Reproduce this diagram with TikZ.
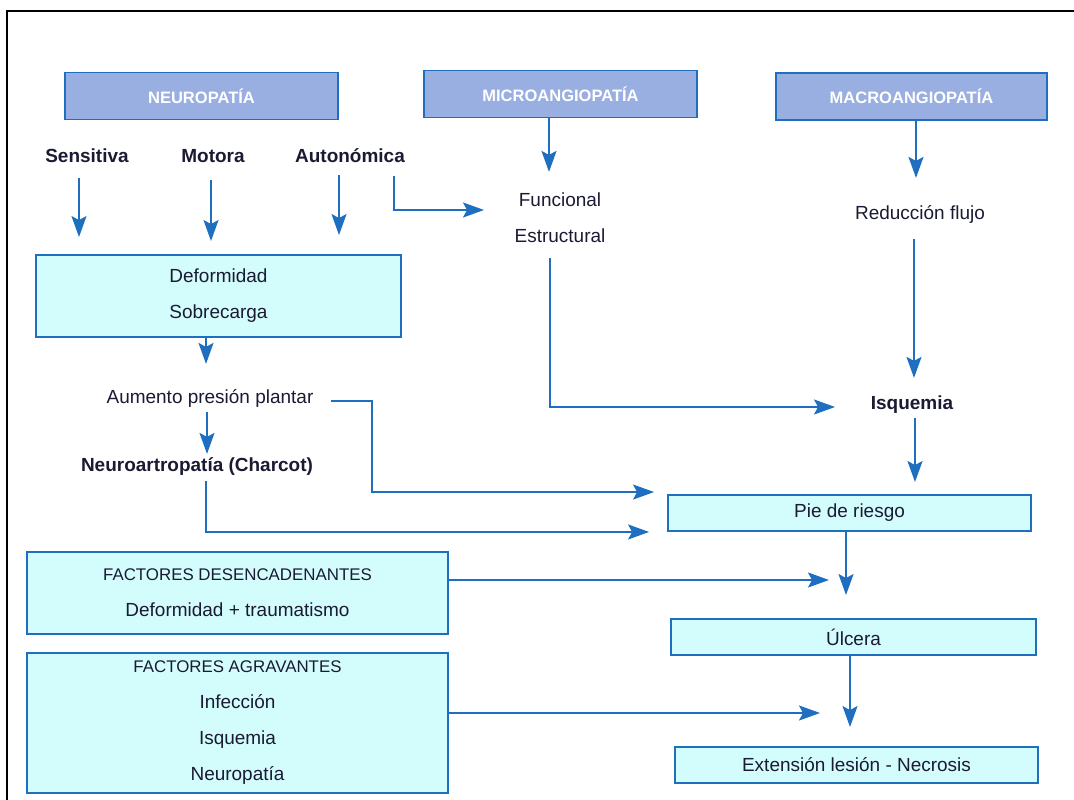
\documentclass[tikz,border=0pt]{standalone}
\usepackage{fontspec}
\setmainfont{Liberation Sans}
\usetikzlibrary{arrows.meta}

\definecolor{linkblue}{HTML}{1F6FC0}
\definecolor{headfill}{HTML}{99AFE1}
\definecolor{boxfill}{HTML}{D3FDFD}
\definecolor{inkdark}{HTML}{1A1A33}

\tikzset{
  lbl/.style={text=inkdark,inner sep=2pt,text height=8pt,text depth=2.5pt,
    font=\fontsize{10.8}{13}\selectfont},
  lblb/.style={lbl,font=\fontsize{10.8}{13}\selectfont\bfseries},
  hdr/.style={draw=linkblue,fill=headfill,line width=1.1pt,text=white,
    minimum width=5.46cm,minimum height=0.94cm,inner sep=0pt,
    font=\fontsize{9.4}{11}\selectfont\bfseries},
  infobox/.style={draw=linkblue,fill=boxfill,line width=1.1pt,text=inkdark,
    align=center,inner sep=0pt,font=\fontsize{10.8}{20.5}\selectfont},
  arr/.style={draw=linkblue,line width=1pt,
    -{Stealth[length=0.42cm,width=0.3cm,inset=0.08cm]}},
}
\newcommand{\capsline}[1]{{\fontsize{9.6}{20.5}\selectfont #1}}

\begin{document}
\begin{tikzpicture}[x=0.02cm,y=-0.02cm]
  \useasboundingbox (0,0) rectangle (1074,800);
  \draw[line width=1.6pt] (7,800) -- (7,11) -- (1074,11);

  % headers
  \node[hdr] (hneuro) at (201.5,96) {NEUROPATÍA};
  \node[hdr] (hmicro) at (560.5,94) {MICROANGIOPATÍA};
  \node[hdr,minimum width=5.42cm] (hmacro) at (911.5,96.5) {MACROANGIOPATÍA};

  % texts
  \node[lblb] (sens) at (87,158) {Sensitiva};
  \node[lblb] (moto) at (213,158) {Motora};
  \node[lblb] (auto) at (350,158) {Autonómica};
  \node[lbl] (func) at (560,202) {Funcional};
  \node[lbl] (estr) at (560,238) {Estructural};
  \node[lbl] (red) at (920,215) {Reducción flujo};
  \node[lbl] (aum) at (210,399) {Aumento presión plantar};
  \node[lblb] (charcot) at (197,467) {Neuroartropatía (Charcot)};
  \node[lblb] (isq) at (912,405) {Isquemia};

  % boxes
  \node[infobox,minimum width=7.3cm,minimum height=1.64cm] (defo) at (218.5,296)
    {Deformidad\\Sobrecarga};
  \node[infobox,minimum width=8.42cm,minimum height=1.64cm] (desenc) at (237.5,593)
    {\capsline{FACTORES DESENCADENANTES}\\Deformidad + traumatismo};
  \node[infobox,minimum width=8.42cm,minimum height=2.8cm] (agrav) at (237.5,723)
    {\capsline{FACTORES AGRAVANTES}\\Infección\\Isquemia\\Neuropatía};
  \node[infobox,minimum width=7.26cm,minimum height=0.72cm] (pie) at (849.5,513) {Pie de riesgo};
  \node[infobox,minimum width=7.3cm,minimum height=0.72cm] (ulc) at (853.5,637) {Úlcera};
  \node[infobox,minimum width=7.26cm,minimum height=0.72cm] (ext) at (856.5,765)
    {Extensión lesión - Necrosis};
  \coordinate (ulcin) at (829,580);
  \coordinate (extin) at (820,713);

  % neuropathy arrows
  \draw[arr,shorten <=0.14cm,shorten >=0.34cm] ([xshift=-0.16cm]sens.south) -- ([xshift=-0.16cm]sens.south |- defo.north);
  \draw[arr,shorten <=0.18cm,shorten >=0.26cm] ([xshift=-0.04cm]moto.south) -- ([xshift=-0.04cm]moto.south |- defo.north);
  \draw[arr,shorten <=0.08cm,shorten >=0.38cm] ([xshift=-0.22cm]auto.south) -- ([xshift=-0.22cm]auto.south |- defo.north);
  \draw[arr,shorten <=0.1cm,shorten >=0.62cm] ([xshift=0.88cm]auto.south) |- ([yshift=-0.16cm]func.west);

  % micro and macro
  \draw[arr,shorten >=0.34cm] ([xshift=-0.23cm]hmicro.south) -- ([xshift=-0.23cm]hmicro.south |- func.north);
  \draw[arr,shorten <=0.14cm,shorten >=0.64cm] ([xshift=-0.2cm]estr.south) |- ([yshift=-0.04cm]isq.west);
  \draw[arr,shorten >=0.48cm] ([xshift=0.09cm]hmacro.south) -- ([xshift=0.09cm]hmacro.south |- red.north);
  \draw[arr,shorten <=0.22cm,shorten >=0.28cm] ([xshift=-0.12cm]red.south) -- ([xshift=-0.12cm]red.south |- isq.north);
  \draw[arr,shorten >=0.24cm] ([xshift=0.06cm]isq.south) -- ([xshift=0.06cm]isq.south |- pie.north);

  % left chain
  \draw[arr,shorten >=0.44cm] ([xshift=-0.25cm]defo.south) -- ([xshift=-0.25cm]defo.south |- aum.north);
  \draw[arr] ([xshift=-0.06cm]aum.south) -- ([xshift=-0.06cm]aum.south |- charcot.north);
  \draw[arr,shorten <=0.28cm,shorten >=0.26cm] ([yshift=-0.04cm]aum.east) -- ++(55,0) |- ([yshift=0.04cm]pie.north west);
  \draw[arr,shorten <=0.02cm,shorten >=0.36cm] ([xshift=0.18cm]charcot.south) |- (pie.south west);

  % lower chain
  \draw[arr,shorten >=0.46cm] ([xshift=-0.07cm]pie.south) -- ([xshift=-0.07cm]pie.south |- ulc.north);
  \draw[arr] ([yshift=0.26cm]desenc.east) -- (ulcin);
  \draw[arr,shorten >=0.38cm] ([xshift=-0.07cm]ulc.south) -- ([xshift=-0.07cm]ulc.south |- ext.north);
  \draw[arr] ([yshift=0.2cm]agrav.east) -- (extin);
\end{tikzpicture}
\end{document}
